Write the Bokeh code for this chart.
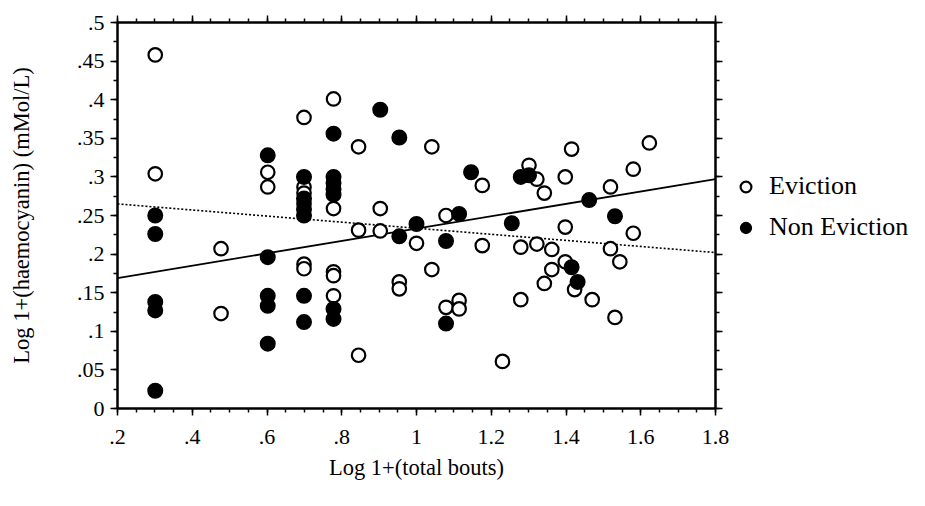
from bokeh.plotting import figure
from bokeh.layouts import row
from bokeh.models import (LinearAxis, FixedTicker, CustomJSTickFormatter, Range1d,
                          Legend, LegendItem)
from bokeh.embed import file_html
from bokeh.resources import INLINE

# ---- data ----
evict_x = [0.301, 0.301, 0.477, 0.477, 0.602, 0.602, 0.699, 0.699, 0.699, 0.699,
           0.699, 0.699, 0.778, 0.778, 0.778, 0.778, 0.778, 0.845, 0.845, 0.845,
           0.903, 0.903, 0.954, 0.954, 1.000, 1.041, 1.041, 1.079, 1.079, 1.114,
           1.114, 1.176, 1.176, 1.230, 1.279, 1.279, 1.301, 1.322, 1.322, 1.342,
           1.342, 1.362, 1.362, 1.398, 1.398, 1.398, 1.415, 1.423, 1.470, 1.519,
           1.519, 1.544, 1.531, 1.580, 1.580, 1.623]
evict_y = [0.458, 0.304, 0.207, 0.123, 0.306, 0.287, 0.377, 0.287, 0.279, 0.265,
           0.187, 0.181, 0.401, 0.259, 0.177, 0.172, 0.146, 0.339, 0.231, 0.069,
           0.259, 0.230, 0.164, 0.155, 0.214, 0.339, 0.180, 0.250, 0.131, 0.140,
           0.129, 0.289, 0.211, 0.061, 0.209, 0.141, 0.315, 0.297, 0.213, 0.279,
           0.162, 0.206, 0.180, 0.300, 0.235, 0.190, 0.336, 0.154, 0.141, 0.287,
           0.207, 0.190, 0.118, 0.310, 0.227, 0.344]

non_x = [0.301, 0.301, 0.301, 0.301, 0.301, 0.602, 0.602, 0.602, 0.602, 0.602,
         0.699, 0.699, 0.699, 0.699, 0.699, 0.699, 0.778, 0.778, 0.778, 0.778,
         0.778, 0.778, 0.778, 0.903, 0.954, 0.954, 1.000, 1.079, 1.079, 1.114,
         1.146, 1.255, 1.279, 1.301, 1.415, 1.431, 1.462, 1.531]
non_y = [0.250, 0.226, 0.138, 0.127, 0.023, 0.328, 0.196, 0.146, 0.133, 0.084,
         0.300, 0.272, 0.258, 0.250, 0.146, 0.112, 0.356, 0.300, 0.292, 0.284,
         0.277, 0.129, 0.116, 0.387, 0.351, 0.223, 0.239, 0.217, 0.110, 0.252,
         0.306, 0.240, 0.300, 0.302, 0.183, 0.164, 0.270, 0.249]

fit_x = [0.2, 1.8]
solid_fit_y = [0.169, 0.297]
dotted_fit_y = [0.265, 0.202]

series_labels = ["Eviction", "Non Eviction"]

x_major = [0.2, 0.4, 0.6, 0.8, 1.0, 1.2, 1.4, 1.6, 1.8]
x_minor = [round(0.2 + 0.05 * i, 3) for i in range(33)]
y_major = [round(0.05 * i, 3) for i in range(11)]
y_minor = [round(0.025 * i, 3) for i in range(21)]

FONT = "Liberation Serif"

p = figure(frame_width=598, frame_height=386, output_backend="svg",
           toolbar_location=None, x_axis_location=None, y_axis_location=None,
           x_range=Range1d(0.2, 1.8), y_range=Range1d(0, 0.5),
           min_border_left=117, min_border_right=15, min_border_top=22,
           min_border_bottom=98, background_fill_color="white",
           border_fill_color="white")
p.grid.visible = False
p.outline_line_color = "black"
p.outline_line_width = 2

fmt = CustomJSTickFormatter(code="""
let s = (Math.round(tick*1000)/1000).toString();
return s.replace(/^0\\./, '.');
""")
blank = CustomJSTickFormatter(code="return '';")

def style(ax, ticks, minor, labels):
    ax.ticker = FixedTicker(ticks=ticks, minor_ticks=minor)
    ax.axis_line_color = "black"
    ax.axis_line_width = 2
    ax.major_tick_line_width = 1.5
    ax.minor_tick_line_width = 1.5
    ax.major_tick_out = 7
    ax.major_tick_in = 0
    ax.minor_tick_out = 4
    ax.minor_tick_in = 0
    ax.major_label_text_font = FONT
    ax.major_label_text_font_size = "22px"
    ax.major_label_text_color = "black"
    ax.formatter = fmt if labels else blank

xb = LinearAxis(axis_label="Log 1+(total bouts)")
style(xb, x_major, x_minor, True)
xb.major_label_standoff = 14
xb.axis_label_standoff = 8
xt = LinearAxis()
style(xt, x_major, x_minor, False)
xt.major_label_standoff = 0
yl = LinearAxis(axis_label="Log 1+(haemocyanin) (mMol/L)")
style(yl, y_major, y_minor, True)
yl.major_label_standoff = 6
yl.axis_label_standoff = 40
yr = LinearAxis()
style(yr, y_major, y_minor, False)
yr.major_label_standoff = 0
for ax in (xb, yl):
    ax.axis_label_text_font = FONT
    ax.axis_label_text_font_size = "22.5px"
    ax.axis_label_text_font_style = "normal"
    ax.axis_label_text_color = "black"

p.add_layout(xb, "below")
p.add_layout(xt, "above")
p.add_layout(yl, "left")
p.add_layout(yr, "right")

p.line(fit_x, solid_fit_y, line_color="black", line_width=1.8)
p.line(fit_x, dotted_fit_y, line_color="black", line_width=1.6, line_dash="2 2")

open_style = dict(marker="circle", fill_color="white", line_color="black", line_width=2.2)
fill_style = dict(marker="circle", fill_color="black", line_color="black", line_width=1.5)

p.scatter(evict_x, evict_y, size=13.5, **open_style)
p.scatter(non_x, non_y, size=14.5, **fill_style)

# ---- legend panel (separate, so it is not clipped by the plot frame) ----
q = figure(width=195, height=506, output_backend="svg", toolbar_location=None,
           x_axis_location=None, y_axis_location=None,
           x_range=Range1d(0, 1), y_range=Range1d(0, 1),
           min_border=0, outline_line_color=None,
           background_fill_color="white", border_fill_color="white")
q.grid.visible = False
# legend proxies: one point each, placed outside the visible range
q_e = q.scatter(x=[-5], y=[-5], size=10, **open_style)
q_n = q.scatter(x=[-5], y=[-5], size=10, **fill_style)
legend = Legend(items=[LegendItem(label=series_labels[0], renderers=[q_e]),
                       LegendItem(label=series_labels[1], renderers=[q_n])],
                location=(2, 166), orientation="vertical")
legend.label_text_font = FONT
legend.label_text_font_size = "26px"
legend.label_text_color = "black"
legend.glyph_width = 27
legend.glyph_height = 27
legend.label_height = 27
legend.spacing = 11
legend.label_standoff = 10
legend.padding = 0
legend.margin = 0
legend.border_line_color = None
legend.background_fill_alpha = 0
q.add_layout(legend, "center")

layout = row(p, q)
open("out.html", "w").write(file_html(layout, INLINE))
